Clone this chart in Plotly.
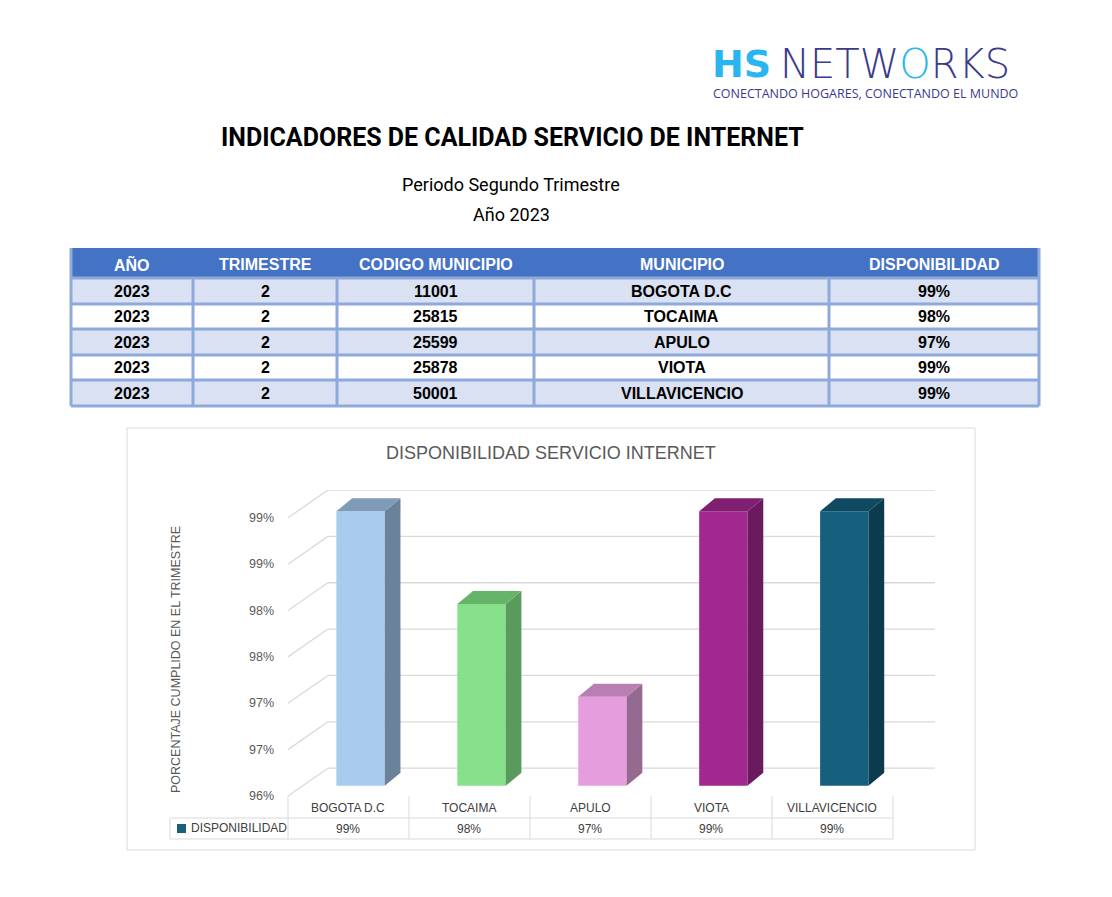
import plotly.graph_objects as go

W, H = 1112, 897
OFF = 8  # margen del body de la pagina

# datos de la tabla
anio = [2023, 2023, 2023, 2023, 2023]
trimestre = [2, 2, 2, 2, 2]
codigo = [11001, 25815, 25599, 25878, 50001]
municipios = ["BOGOTA D.C", "TOCAIMA", "APULO", "VIOTA", "VILLAVICENCIO"]
disponibilidad = [99, 98, 97, 99, 99]
encabezados = ["AÑO", "TRIMESTRE", "CODIGO MUNICIPIO", "MUNICIPIO", "DISPONIBILIDAD"]

y_ticks = [96, 96.5, 97, 97.5, 98, 98.5, 99]
y_ticktext = ["96%", "97%", "97%", "98%", "98%", "99%", "99%"]

col_frente = ["#A9CBEE", "#86E18A", "#E69DDE", "#A0288F", "#16607E"]
col_lado = ["#6C829B", "#5A9A5D", "#946A90", "#6A1A5F", "#0C3B4E"]
col_techo = ["#7F9BB8", "#66B36A", "#B87FB2", "#801F72", "#0F4A62"]


def px(x):
    return (x - OFF) / W


def py(y):
    return 1 - (y - OFF) / H


fig = go.Figure()
shapes = []
ann = []

# ---- encabezado / logo
ann.append(dict(x=px(710), y=py(64), xanchor="left",
                text="<b>HS</b>", font=dict(family="DejaVu Sans", size=38, color="#29B6F0"), showarrow=False))
ann.append(dict(x=px(778), y=py(64), xanchor="left",
                text="NETW<span style='color:#29B6F0'>O</span>RKS",
                font=dict(family="DejaVu Sans", size=40, color="#3A3A8C", weight=200), showarrow=False))
ann.append(dict(x=px(711), y=py(94), xanchor="left",
                text="CONECTANDO HOGARES, CONECTANDO EL MUNDO",
                font=dict(family="Open Sans", size=12.5, color="#3A3A8C"), showarrow=False))
ann.append(dict(x=px(512), y=py(137), text="<b>INDICADORES DE CALIDAD SERVICIO DE INTERNET</b>",
                font=dict(family="Roboto", size=25, color="black"), showarrow=False))
ann.append(dict(x=px(511), y=py(185), text="Periodo Segundo Trimestre",
                font=dict(family="Roboto", size=18, color="black"), showarrow=False))
ann.append(dict(x=px(511), y=py(214), text="Año 2023",
                font=dict(family="Roboto", size=18, color="black"), showarrow=False))

# ---- tabla superior
cols = [71, 193, 337, 534, 829, 1039]
filas = [248, 278, 304, 329, 355, 380, 406]
shapes.append(dict(type="rect", xref="paper", yref="paper", x0=px(cols[0]), x1=px(cols[-1]),
                   y0=py(filas[1]), y1=py(filas[0]), fillcolor="#4472C4", line=dict(width=0), layer="below"))
for i in range(5):
    shapes.append(dict(type="rect", xref="paper", yref="paper", x0=px(cols[0]), x1=px(cols[-1]),
                       y0=py(filas[i + 2]), y1=py(filas[i + 1]),
                       fillcolor="#D9E1F2" if i % 2 == 0 else "white", line=dict(width=0), layer="below"))
for y in filas[1:]:
    shapes.append(dict(type="line", xref="paper", yref="paper", x0=px(cols[0]), x1=px(cols[-1]),
                       y0=py(y), y1=py(y), line=dict(color="#8EA9DB", width=3)))
for x in cols:
    shapes.append(dict(type="line", xref="paper", yref="paper", x0=px(x), x1=px(x),
                       y0=py(filas[-1]), y1=py(filas[1] if x not in (cols[0], cols[-1]) else filas[0]),
                       line=dict(color="#8EA9DB", width=3)))
for j, h in enumerate(encabezados):
    ann.append(dict(x=px((cols[j] + cols[j + 1]) / 2), y=py(264), text="<b>%s</b>" % h,
                    font=dict(family="Arial", size=16, color="white"), showarrow=False))
for i in range(5):
    fila = [anio[i], trimestre[i], codigo[i], municipios[i], "%d%%" % disponibilidad[i]]
    yc = (filas[i + 1] + filas[i + 2]) / 2
    for j, v in enumerate(fila):
        ann.append(dict(x=px((cols[j] + cols[j + 1]) / 2), y=py(yc), text="<b>%s</b>" % v,
                        font=dict(family="Arial", size=16, color="black"), showarrow=False))

# ---- marco del grafico
shapes.append(dict(type="rect", xref="paper", yref="paper", x0=px(127), x1=px(975), y0=py(850), y1=py(428),
                   line=dict(color="#D9D9D9", width=1), fillcolor="rgba(0,0,0,0)"))
ann.append(dict(x=px(551), y=py(453), text="DISPONIBILIDAD SERVICIO INTERNET",
                font=dict(family="Arial", size=18, color="#595959"), showarrow=False))
ann.append(dict(x=px(176), y=py(660), text="PORCENTAJE CUMPLIDO EN EL TRIMESTRE", textangle=-90,
                font=dict(family="Arial", size=12.5, color="#595959"), showarrow=False))

# desplazamiento 3D en unidades de datos
fondo_dx, fondo_dy = 0.33, 0.30
barra_dx, barra_dy = 0.13, 0.14
off_dx, off_dy = 0.10, 0.11  # barras dentro de la profundidad
x_max = 4.85
ybase = 96

for t, lab in zip(y_ticks, y_ticktext):
    shapes.append(dict(type="line", xref="x", yref="y", x0=-0.5, y0=t, x1=-0.5 + fondo_dx, y1=t + fondo_dy,
                       line=dict(color="#D9D9D9", width=1.3), layer="below"))
    shapes.append(dict(type="line", xref="x", yref="y", x0=-0.5 + fondo_dx, y0=t + fondo_dy, x1=x_max, y1=t + fondo_dy,
                       line=dict(color="#D9D9D9", width=1.3), layer="below"))
    ann.append(dict(x=px(276), xref="paper", y=t, yref="y", xanchor="right", text=lab,
                    font=dict(family="Arial", size=12.5, color="#595959"), showarrow=False))

# barras 3D
for i, v in enumerate(disponibilidad):
    x0 = i - 0.2 + off_dx
    x1 = i + 0.2 + off_dx
    b = ybase + off_dy
    top = v + off_dy - 0.04
    fig.add_trace(go.Scatter(x=[x0, x1, x1, x0, x0], y=[b, b, top, top, b], fill="toself", mode="lines",
                             fillcolor=col_frente[i], line=dict(width=0), hoverinfo="skip", showlegend=False))
    fig.add_trace(go.Scatter(x=[x1, x1 + barra_dx, x1 + barra_dx, x1, x1],
                             y=[b, b + barra_dy, top + barra_dy, top, b], fill="toself", mode="lines",
                             fillcolor=col_lado[i], line=dict(width=0), hoverinfo="skip", showlegend=False))
    fig.add_trace(go.Scatter(x=[x0, x1, x1 + barra_dx, x0 + barra_dx, x0],
                             y=[top, top, top + barra_dy, top + barra_dy, top], fill="toself", mode="lines",
                             fillcolor=col_techo[i], line=dict(width=0), hoverinfo="skip", showlegend=False))

# tabla de datos bajo el grafico
bordes = [288, 409, 530, 651, 772, 893]
gris = "#D9D9D9"
for y in (818, 839):
    shapes.append(dict(type="line", xref="paper", yref="paper", x0=px(170), x1=px(893), y0=py(y), y1=py(y),
                       line=dict(color=gris, width=1)))
shapes.append(dict(type="line", xref="paper", yref="paper", x0=px(170), x1=px(170), y0=py(839), y1=py(818),
                   line=dict(color=gris, width=1)))
for x in bordes:
    shapes.append(dict(type="line", xref="paper", yref="paper", x0=px(x), x1=px(x), y0=py(839), y1=py(796),
                       line=dict(color=gris, width=1)))
for i, m in enumerate(municipios):
    ann.append(dict(x=i, xref="x", y=py(808), text=m, font=dict(family="Arial", size=12, color="#404040"),
                    showarrow=False))
    ann.append(dict(x=i, xref="x", y=py(829), text="%d%%" % disponibilidad[i],
                    font=dict(family="Arial", size=12, color="#404040"), showarrow=False))
shapes.append(dict(type="rect", xref="paper", yref="paper", x0=px(177), x1=px(186), y0=py(833), y1=py(824),
                   fillcolor="#16607E", line=dict(width=0)))
ann.append(dict(x=px(189), y=py(828), xanchor="left", text="DISPONIBILIDAD",
                font=dict(family="Arial", size=12, color="#404040"), showarrow=False))

for a in ann:
    a.setdefault("xref", "paper")
    a.setdefault("yref", "paper")
    a.setdefault("xanchor", "center")
    a.setdefault("yanchor", "middle")

fig.update_layout(
    width=W, height=H, margin=dict(l=0, r=0, t=0, b=0),
    paper_bgcolor="white", plot_bgcolor="rgba(0,0,0,0)",
    shapes=shapes, annotations=ann,
    xaxis=dict(domain=[px(288), px(935)], range=[-0.5, x_max], visible=False, fixedrange=True),
    yaxis=dict(domain=[py(796), py(490)], range=[96, 99.3], visible=False, fixedrange=True),
)

fig.write_html("out.html")
